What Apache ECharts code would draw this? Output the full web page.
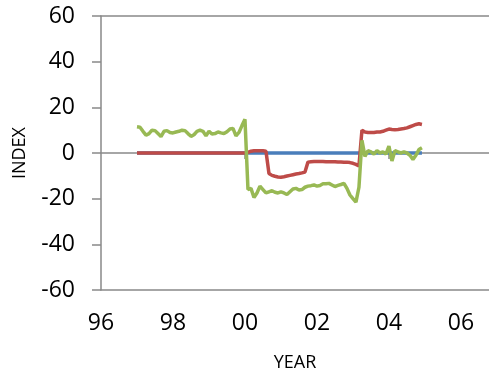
<!DOCTYPE html>
<html>
<head>
<meta charset="utf-8">
<script src="https://cdn.jsdelivr.net/npm/echarts@6/dist/echarts.min.js"></script>
<style>html,body{margin:0;padding:0;background:#fff}#c{width:489px;height:372px}</style>
</head>
<body>
<div id="c"></div>
<script>
// Monthly observations, Jan 1997 .. Dec 2004
var startYear = 1997;
var monthCount = 96;
var xTickLabels = ['96', '98', '00', '02', '04', '06'];
var zeroAxisTicks = [100, 104];

var blueSeries = [
  0,0,0,0,0,0,0,0,0,0,0,0,
  0,0,0,0,0,0,0,0,0,0,0,0,
  0,0,0,0,0,0,0,0,0,0,0,0,
  0,0,0,0,0,0,0,0,0,0,0,0,
  0,0,0,0,0,0,0,0,0,0,0,0,
  0,0,0,0,0,0,0,0,0,0,0,0,
  0,0,0,0,0,0,0,0,0,0,0,0,
  0,0,0,0,0,0,0,0,0,0,0,0
];
var redSeries = [
  0,0,0,0,0,0,0,0,0,0,0,0,
  0,0,0,0,0,0,0,0,0,0,0,0,
  0,0,0,0,0,0,0,0,0,0,0,0,
  0,0.3,0.8,1,1,1,1,0.8,-9,-9.8,-10.2,-10.5,
  -10.6,-10.4,-10.1,-9.8,-9.5,-9.2,-9.0,-8.7,-8.3,-4.0,-3.8,-3.7,
  -3.7,-3.7,-3.7,-3.8,-3.8,-3.8,-3.8,-3.9,-3.9,-4.0,-4.0,-4.2,
  -4.5,-5.0,-5.7,10,9.2,9.0,9.0,9.0,9.2,9.2,9.5,10.0,
  10.5,10.3,10.2,10.3,10.5,10.7,11,11.5,12,12.5,12.8,12.5
];
var greenSeries = [
  11.5,11.3,9.5,7.8,8.5,10,9.8,8.5,7.2,9.5,9.8,9.0,
  8.8,9.2,9.5,10,9.8,8.5,7.3,8.0,9.5,10,9.5,7.5,
  9.5,8.3,8.5,9.2,8.8,8.5,9.3,10.5,10.8,7.5,9.0,12,
  14.8,-16,-15.5,-19.5,-17.5,-14.5,-16,-17.5,-17,-16.5,-17.2,-17.5,
  -17,-17.5,-18.2,-17,-15.8,-15.5,-16.2,-16,-15,-14.5,-14.3,-14,
  -14.5,-14.2,-13.5,-13.5,-13.3,-14,-14.7,-14.2,-13.8,-13.3,-15.5,-18.4,
  -20,-21.5,-15,5.5,-1.5,1.0,0.5,-0.5,1.0,0,0.5,-0.5,
  3.0,-3.5,1.0,0.5,0,0.5,0,-1,-2.8,-1,1.5,2.3
];

// month positions on a decimal-year axis (96 = 1996)
var monthX = [];
for (var i = 0; i < monthCount; i++) {
  monthX.push((startYear - 1900) + i / 12);
}
function pair(vals) {
  return vals.map(function (v, k) { return [monthX[k], v]; });
}

var axisGray = '#898989';
var fontFam = '"Open Sans", "DejaVu Sans", sans-serif';
var xMin = 96, xMax = 106.78;

var chart = echarts.init(document.getElementById('c'), null, {renderer: 'canvas'});
chart.setOption({
  animation: false,
  backgroundColor: '#fff',
  grid: {left: 101, right: 0, top: 16, bottom: 82, containLabel: false, outerBoundsMode: 'none'},
  xAxis: [
    {
      type: 'value', position: 'bottom', min: xMin, max: xMax, interval: 2,
      name: 'YEAR', nameLocation: 'middle', nameGap: 64,
      nameTextStyle: {fontFamily: fontFam, fontSize: 18, color: '#000'},
      axisLine: {show: true, onZero: false, lineStyle: {color: axisGray, width: 1.5}},
      axisTick: {show: false},
      splitLine: {show: false},
      axisLabel: {
        fontFamily: fontFam, fontSize: 23, color: '#000', margin: 22,
        showMaxLabel: false,
        formatter: function (v) {
          var idx = Math.round((v - xMin) / 2);
          return xTickLabels[idx] !== undefined ? xTickLabels[idx] : '';
        }
      }
    },
    {
      type: 'value', position: 'top', min: xMin, max: xMax,
      axisLine: {show: true, onZero: false, lineStyle: {color: axisGray, width: 1.5}},
      axisTick: {show: false}, axisLabel: {show: false}, splitLine: {show: false}
    },
    {
      type: 'value', position: 'bottom', min: xMin, max: xMax, interval: 4,
      axisLine: {show: true, onZero: true, onZeroAxisIndex: 0, lineStyle: {color: axisGray, width: 1.5}},
      axisTick: {show: true, length: 6, customValues: zeroAxisTicks, lineStyle: {color: axisGray, width: 1.5}},
      axisLabel: {show: false}, splitLine: {show: false}
    }
  ],
  yAxis: {
    type: 'value', min: -60, max: 60, interval: 20,
    name: 'INDEX', nameLocation: 'middle', nameGap: 72, nameRotate: 90,
    nameTextStyle: {fontFamily: fontFam, fontSize: 18, color: '#000'},
    axisLine: {show: true, onZero: false, lineStyle: {color: axisGray, width: 1.5}},
    axisTick: {show: true, length: 9, lineStyle: {color: axisGray, width: 1.5}},
    splitLine: {show: false},
    axisLabel: {fontFamily: fontFam, fontSize: 23, color: '#000', margin: 26}
  },
  series: [
    {type: 'line', xAxisIndex: 0, data: pair(blueSeries), showSymbol: false, symbol: 'none',
     lineStyle: {color: '#4A7EBB', width: 3.5}, z: 3},
    {type: 'line', xAxisIndex: 0, data: pair(redSeries), showSymbol: false, symbol: 'none',
     lineStyle: {color: '#BE4B48', width: 3.5}, z: 4},
    {type: 'line', xAxisIndex: 0, data: pair(greenSeries), showSymbol: false, symbol: 'none',
     lineStyle: {color: '#98B954', width: 3.5}, z: 5}
  ]
});
</script>
</body>
</html>
